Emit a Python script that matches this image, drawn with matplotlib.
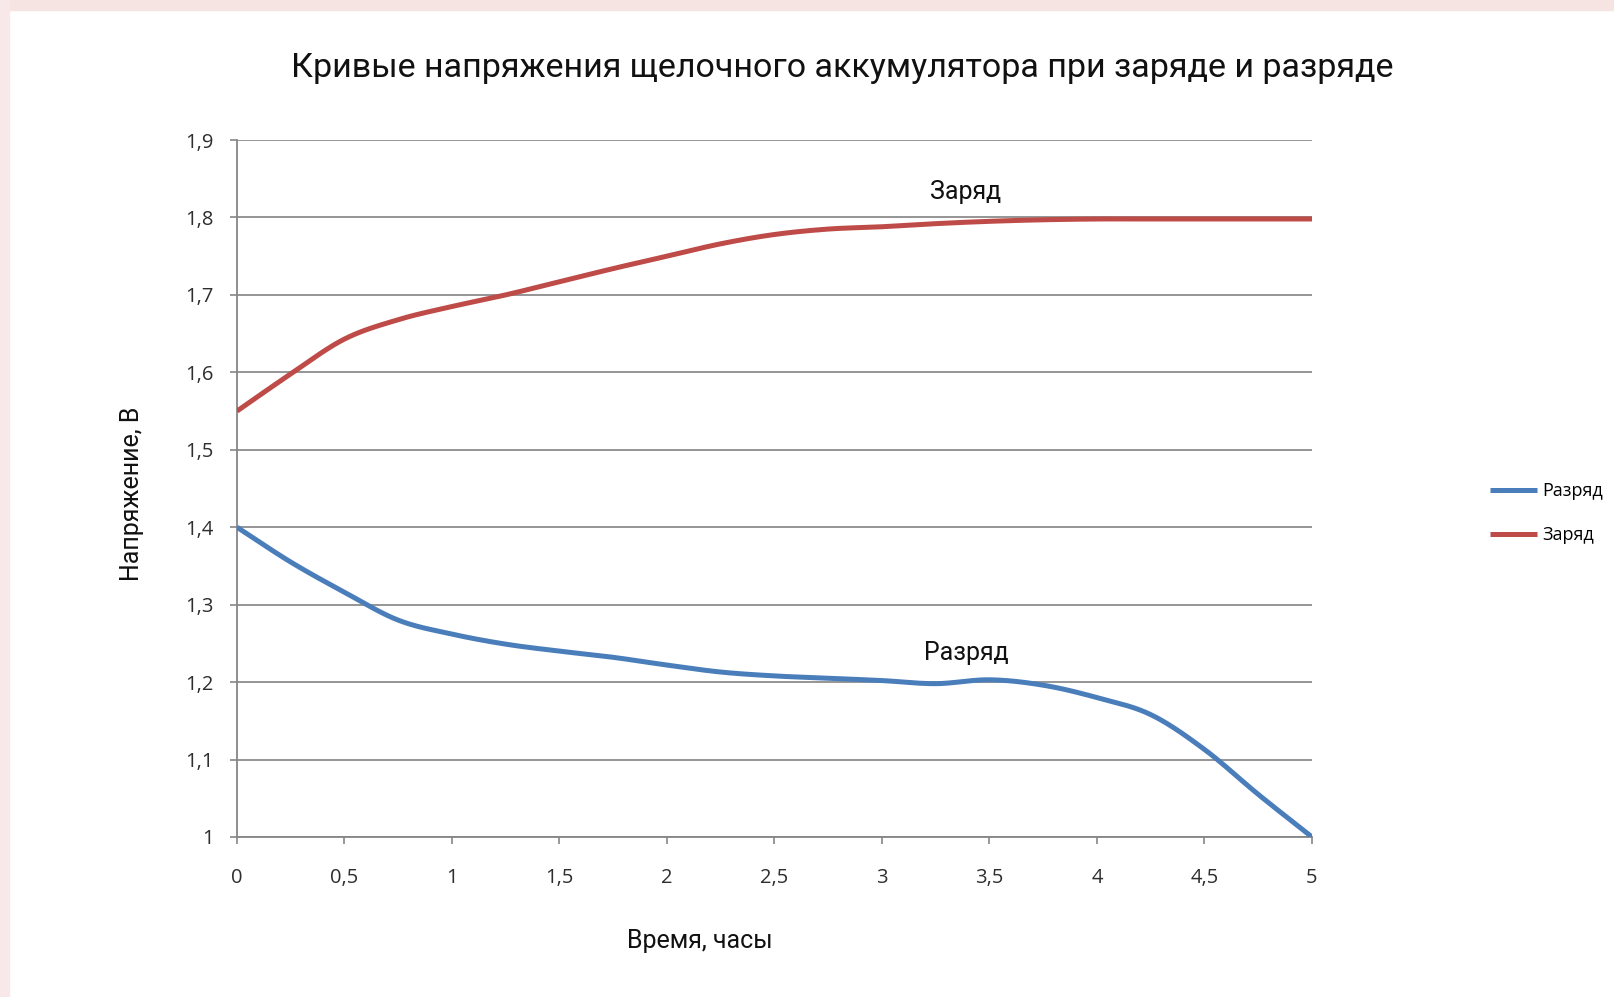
import numpy as np
import matplotlib
matplotlib.use("Agg")
import matplotlib.pyplot as plt
from matplotlib.patches import Rectangle

# time, hours (points every 0.25 h)
hours = [0, 0.25, 0.5, 0.75, 1, 1.25, 1.5, 1.75, 2, 2.25, 2.5, 2.75,
         3, 3.25, 3.5, 3.75, 4, 4.25, 4.5, 4.75, 5]
discharge = [1.400, 1.355, 1.316, 1.280, 1.262, 1.249, 1.240, 1.232, 1.222, 1.213, 1.208, 1.205,
             1.202, 1.198, 1.203, 1.196, 1.180, 1.158, 1.113, 1.055, 1.000]
charge = [1.550, 1.598, 1.643, 1.668, 1.685, 1.700, 1.717, 1.734, 1.750, 1.766, 1.778, 1.785,
          1.788, 1.792, 1.795, 1.797, 1.798, 1.798, 1.798, 1.798, 1.798]

x_ticks = [0, 0.5, 1, 1.5, 2, 2.5, 3, 3.5, 4, 4.5, 5]
x_labels = ["0", "0,5", "1", "1,5", "2", "2,5", "3", "3,5", "4", "4,5", "5"]
y_ticks = [1, 1.1, 1.2, 1.3, 1.4, 1.5, 1.6, 1.7, 1.8, 1.9]
y_labels = ["1", "1,1", "1,2", "1,3", "1,4", "1,5", "1,6", "1,7", "1,8", "1,9"]

title = "Кривые напряжения щелочного аккумулятора при заряде и разряде"
names = ["Разряд", "Заряд"]
colors = ["#4a7ebb", "#be4b48"]

narrow = ["Roboto", "DejaVu Sans"]
plain = ["Open Sans", "DejaVu Sans"]


def smooth(x, y, n=30):
    # Catmull-Rom curve through the points, like a "smoothed line" chart
    x = np.asarray(x, float)
    y = np.asarray(y, float)
    px = np.concatenate([[2 * x[0] - x[1]], x, [2 * x[-1] - x[-2]]])
    py = np.concatenate([[2 * y[0] - y[1]], y, [2 * y[-1] - y[-2]]])
    xs, ys = [], []
    t = np.linspace(0, 1, n, endpoint=False)
    for i in range(1, len(px) - 2):
        for p, out in ((px, xs), (py, ys)):
            p0, p1, p2, p3 = p[i - 1], p[i], p[i + 1], p[i + 2]
            out.append(0.5 * (2 * p1 + (-p0 + p2) * t
                              + (2 * p0 - 5 * p1 + 4 * p2 - p3) * t ** 2
                              + (-p0 + 3 * p1 - 3 * p2 + p3) * t ** 3))
    xs.append([x[-1]])
    ys.append([y[-1]])
    return np.concatenate(xs), np.concatenate(ys)


fig = plt.figure(figsize=(16.15, 9.97), dpi=100)
fig.patch.set_facecolor("white")
fig.patches.append(Rectangle((0, 1 - 10 / 997), 1, 10 / 997, transform=fig.transFigure,
                             color="#f5e4e1", zorder=0))
fig.patches.append(Rectangle((0, 0), 9 / 1615, 1, transform=fig.transFigure,
                             color="#f8e8e9", zorder=0))

ax = fig.add_axes([237 / 1615, 1 - 837 / 997, (1312 - 237) / 1615, (837 - 140) / 997])

sx, sy = smooth(hours, discharge)
ax.plot(sx, sy, color=colors[0], lw=3.6, label=names[0], solid_capstyle="butt", zorder=3)
sx, sy = smooth(hours, charge)
ax.plot(sx, sy, color=colors[1], lw=3.6, label=names[1], solid_capstyle="butt", zorder=3)

ax.set_xlim(0, 5)
ax.set_ylim(1, 1.9)
ax.set_xticks(x_ticks)
ax.set_xticklabels(x_labels, family=plain, fontsize=14.5, color="#2e2e2e")
ax.set_yticks(y_ticks)
ax.set_yticklabels(y_labels, family=plain, fontsize=14.5, color="#2e2e2e")
ax.tick_params(axis="x", direction="out", length=5, width=1.2, color="#868686", pad=17)
ax.tick_params(axis="y", direction="out", length=5, width=1.2, color="#868686", pad=12)
ax.grid(axis="y", color="#8c8c8c", lw=1.3)
ax.set_axisbelow(True)
for side in ["top", "right"]:
    ax.spines[side].set_visible(False)
for side in ["left", "bottom"]:
    ax.spines[side].set_color("#868686")
    ax.spines[side].set_linewidth(1.3)

ax.text(3.39, 1.833, "Заряд", family=narrow, fontsize=18,
        ha="center", va="center", color="#111111")
ax.text(3.39, 1.237, "Разряд", family=narrow, fontsize=18,
        ha="center", va="center", color="#111111")

fig.text(842 / 1615, 1 - 68 / 997, title, family=narrow, fontsize=24.5,
         ha="center", va="center", color="#111111")
fig.text(132 / 1615, 1 - 494 / 997, "Напряжение, В", family=narrow, fontsize=18,
         rotation=90, ha="center", va="center", color="#111111")
fig.text(700 / 1615, 1 - 941 / 997, "Время, часы", family=narrow, fontsize=18,
         ha="center", va="center", color="#111111")

fig.legend(loc="center left", bbox_to_anchor=(1490 / 1615, 1 - 513 / 997), frameon=False,
           prop={"family": plain, "size": 13}, handlelength=2.6, handletextpad=0.3,
           labelspacing=1.45, borderpad=0, borderaxespad=0)

fig.savefig("out.png", dpi=100)
